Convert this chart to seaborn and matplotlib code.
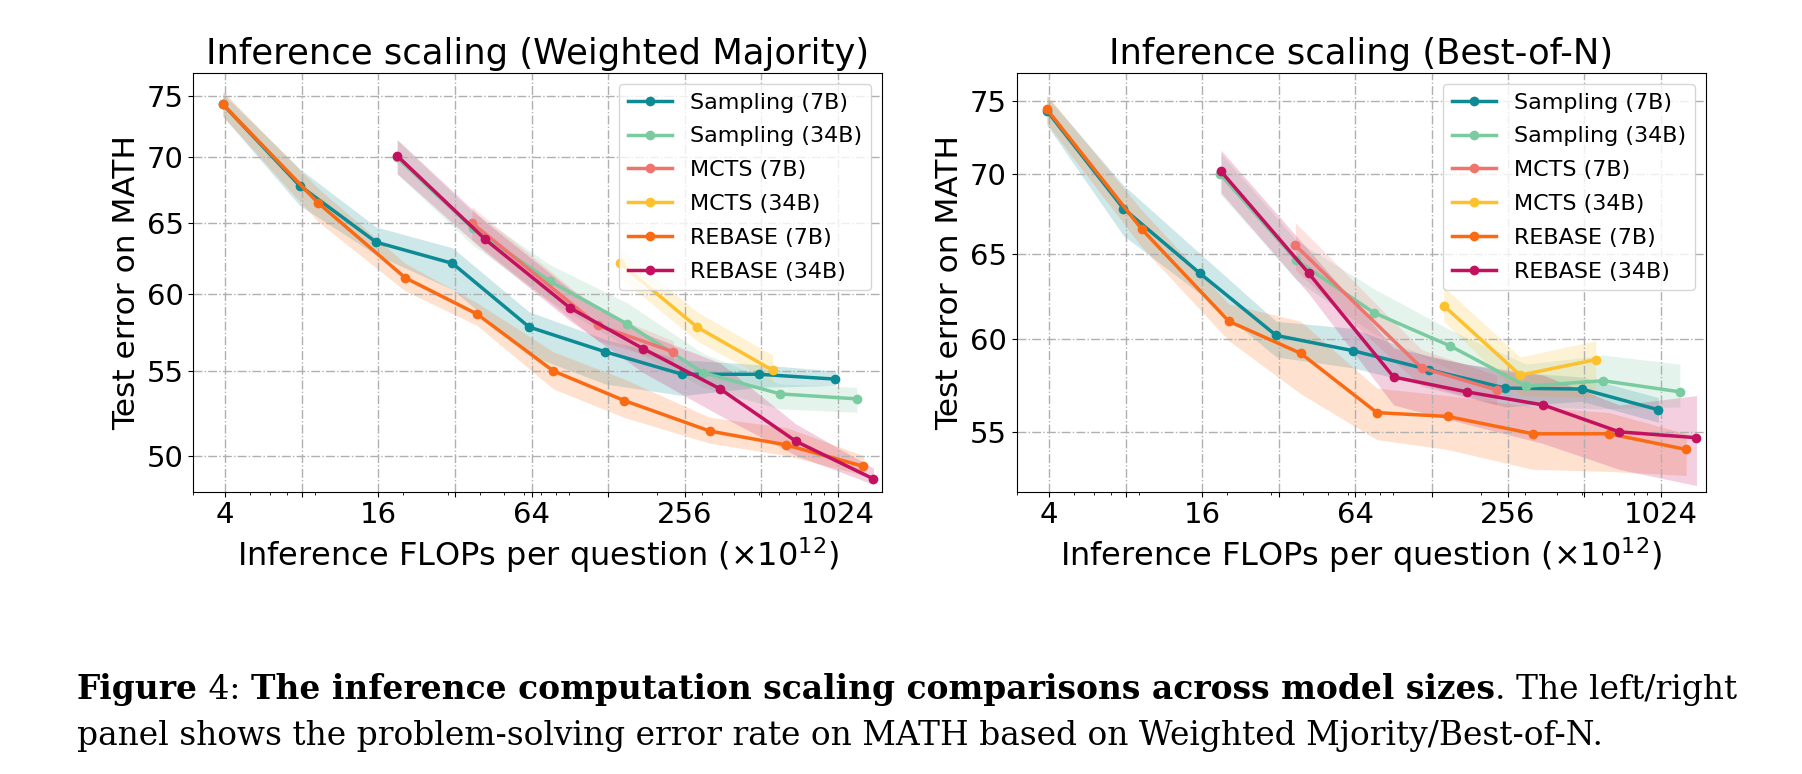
import numpy as np
import pandas as pd
import seaborn as sns
import matplotlib.pyplot as plt
from matplotlib.ticker import NullLocator, NullFormatter

# x positions (inference FLOPs per question, x10^12), shared by both panels
samp7_x = [3.92, 7.84, 15.7, 31.3, 62.6, 125, 250, 500, 1000]
samp34_x = [18.9, 37.6, 75.8, 152, 302, 607, 1216]
mcts7_x = [37.3, 117, 231]
mcts34_x = [143, 286, 567]
rebase7_x = [3.92, 9.26, 20.4, 39.1, 78, 148, 321, 642, 1287]
rebase34_x = [19.0, 42.1, 90.8, 176, 353, 702, 1413]

# Weighted majority (left panel): mean, lower, upper
samp7_wm = [74.3, 67.8, 63.6, 62.1, 57.8, 56.2, 54.8, 54.8, 54.5]
samp7_wm_lo = [73.3, 66.3, 62.7, 60.3, 56.0, 54.2, 53.5, 54.0, 54.1]
samp7_wm_hi = [75.2, 69.1, 64.7, 63.2, 58.8, 57.0, 55.7, 55.4, 55.0]
samp34_wm = [70.0, 64.6, 60.85, 58.0, 54.9, 53.6, 53.3]
samp34_wm_lo = [68.7, 63.4, 59.5, 56.5, 54.0, 52.7, 52.5]
samp34_wm_hi = [71.4, 65.8, 62.0, 59.4, 56.1, 54.2, 54.0]
mcts7_wm = [65.0, 57.9, 56.2]
mcts7_wm_lo = [63.8, 56.9, 55.5]
mcts7_wm_hi = [66.2, 58.9, 56.9]
mcts34_wm = [62.1, 57.8, 55.05]
mcts34_wm_lo = [61.1, 56.9, 54.3]
mcts34_wm_hi = [63.1, 58.8, 56.0]
rebase7_wm = [74.3, 66.5, 61.1, 58.65, 55.0, 53.2, 51.4, 50.6, 49.4]
rebase7_wm_lo = [73.3, 65.1, 60.2, 57.9, 53.9, 52.2, 50.7, 50.0, 48.9]
rebase7_wm_hi = [75.4, 67.6, 62.1, 59.4, 56.2, 54.5, 52.2, 51.6, 50.0]
rebase34_wm = [70.1, 63.8, 59.05, 56.4, 53.9, 50.8, 48.7]
rebase34_wm_lo = [68.7, 62.9, 58.2, 54.9, 52.3, 50.0, 48.4]
rebase34_wm_hi = [71.4, 65.1, 60.3, 57.4, 55.5, 51.8, 49.3]

# Best-of-N (right panel)
samp7_bon = [74.3, 67.8, 63.8, 60.2, 59.35, 58.3, 57.3, 57.25, 56.15]
samp7_bon_lo = [73.3, 66.1, 62.6, 59.0, 58.4, 57.4, 56.3, 56.6, 55.5]
samp7_bon_hi = [75.3, 69.3, 65.0, 61.0, 60.6, 59.0, 58.2, 57.9, 56.8]
samp34_bon = [70.0, 64.6, 61.5, 59.6, 57.4, 57.7, 57.1]
samp34_bon_lo = [68.7, 63.4, 60.3, 58.3, 56.3, 56.2, 56.3]
samp34_bon_hi = [71.4, 65.8, 62.9, 60.5, 58.6, 59.1, 58.6]
mcts7_bon = [65.5, 58.4, 57.2]
mcts7_bon_lo = [64.0, 57.4, 56.4]
mcts7_bon_hi = [66.9, 59.4, 58.0]
mcts34_bon = [61.9, 58.0, 58.85]
mcts34_bon_lo = [61.0, 56.9, 56.8]
mcts34_bon_hi = [63.0, 59.0, 59.9]
rebase7_bon = [74.4, 66.5, 61.0, 59.2, 56.0, 55.8, 54.9, 54.9, 54.1]
rebase7_bon_lo = [73.4, 65.4, 59.9, 57.0, 54.6, 54.1, 53.1, 53.0, 52.8]
rebase7_bon_hi = [75.4, 67.7, 62.0, 61.0, 57.3, 56.9, 56.3, 56.0, 54.9]
rebase34_bon = [70.2, 63.8, 57.9, 57.1, 56.4, 55.0, 54.7]
rebase34_bon_lo = [68.8, 62.6, 56.4, 55.4, 54.4, 53.1, 52.3]
rebase34_bon_hi = [71.6, 65.2, 59.5, 58.6, 58.0, 56.4, 56.9]

methods = ["Sampling (7B)", "Sampling (34B)", "MCTS (7B)", "MCTS (34B)",
           "REBASE (7B)", "REBASE (34B)"]
colors = ["#0C8B94", "#7BCBA1", "#F0746E", "#FDC12E", "#FA6A12", "#C3105F"]
xs = [samp7_x, samp34_x, mcts7_x, mcts34_x, rebase7_x, rebase34_x]

x_ticks = [4, 8, 16, 32, 64, 128, 256, 512, 1024]
x_ticklabels = ["4", "", "16", "", "64", "", "256", "", "1024"]


def draw_panel(ax, ys, los, his, title, yticks, ylim, xlim):
    for name, c, x, y, lo, hi in zip(methods, colors, xs, ys, los, his):
        ax.fill_between(x, lo, hi, color=c, alpha=0.2, lw=0)
        sns.lineplot(x=x, y=y, ax=ax, color=c, marker="o", lw=2.5,
                     markersize=7, markeredgewidth=0, label=name)
    ax.set_xscale("log")
    ax.set_yscale("log")
    ax.set_xticks(x_ticks)
    ax.set_xticklabels(x_ticklabels)
    ax.xaxis.set_minor_formatter(NullFormatter())
    ax.set_yticks(yticks)
    ax.set_yticklabels([str(v) for v in yticks])
    ax.yaxis.set_minor_locator(NullLocator())
    ax.set_xlim(*xlim)
    ax.set_ylim(*ylim)
    ax.tick_params(labelsize=21)
    ax.grid(True, which="major", ls="-.", color="#b0b0b0", lw=1)
    ax.set_title(title, fontsize=25.5)
    ax.set_xlabel(r"Inference FLOPs per question ($\times 10^{12}$)", fontsize=23)
    ax.set_ylabel("Test error on MATH", fontsize=22.5)
    ax.legend(loc="upper right", fontsize=16, labelspacing=0.62)


fig = plt.figure(figsize=(18.02, 7.74), dpi=100)
ax_wm = fig.add_axes([0.1073, 0.3647, 0.3823, 0.5414])
ax_bon = fig.add_axes([0.5642, 0.3647, 0.3825, 0.5414])

draw_panel(ax_wm,
           [samp7_wm, samp34_wm, mcts7_wm, mcts34_wm, rebase7_wm, rebase34_wm],
           [samp7_wm_lo, samp34_wm_lo, mcts7_wm_lo, mcts34_wm_lo, rebase7_wm_lo, rebase34_wm_lo],
           [samp7_wm_hi, samp34_wm_hi, mcts7_wm_hi, mcts34_wm_hi, rebase7_wm_hi, rebase34_wm_hi],
           "Inference scaling (Weighted Majority)", [50, 55, 60, 65, 70, 75],
           (48.0, 77.0), (3.0, 1530))
draw_panel(ax_bon,
           [samp7_bon, samp34_bon, mcts7_bon, mcts34_bon, rebase7_bon, rebase34_bon],
           [samp7_bon_lo, samp34_bon_lo, mcts7_bon_lo, mcts34_bon_lo, rebase7_bon_lo, rebase34_bon_lo],
           [samp7_bon_hi, samp34_bon_hi, mcts7_bon_hi, mcts34_bon_hi, rebase7_bon_hi, rebase34_bon_hi],
           "Inference scaling (Best-of-N)", [55, 60, 65, 70, 75],
           (52.0, 77.0), (2.98, 1540))

# caption, written piece by piece to mix bold and regular
cap_font = "DejaVu Serif"
cap_fs = 23.7
line1 = [("Figure", "bold"), (" 4: ", "normal"),
         ("The inference computation scaling comparisons across model sizes", "bold"),
         (". The left/right", "normal")]
line2 = [("panel shows the problem-solving error rate on MATH based on "
          "Weighted Mjority/Best-of-N.", "normal")]

fig.canvas.draw()
renderer = fig.canvas.get_renderer()
for parts, y in [(line1, 1 - 699 / 774), (line2, 1 - 745 / 774)]:
    x = 77 / 1802
    for txt, wt in parts:
        t = fig.text(x, y, txt, fontweight=wt, family=cap_font,
                     fontsize=cap_fs, va="baseline", ha="left")
        bb = t.get_window_extent(renderer=renderer)
        x = bb.x1 / fig.bbox.width

fig.savefig("out.png", dpi=100)
